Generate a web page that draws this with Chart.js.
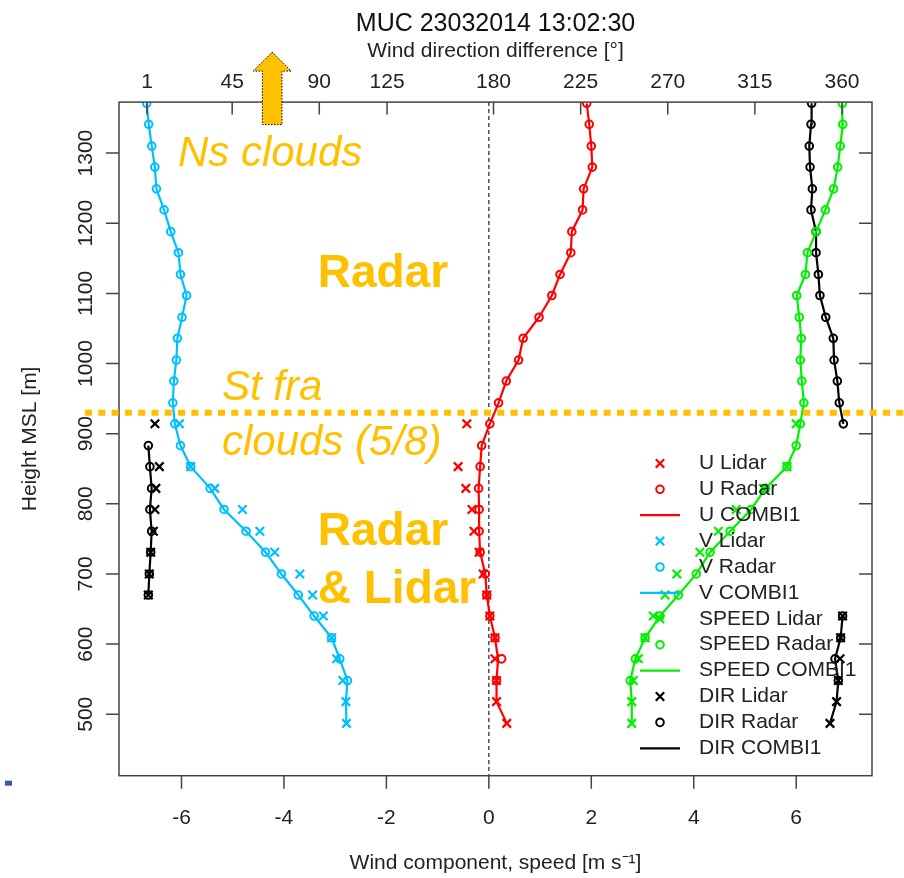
<!DOCTYPE html>
<html><head><meta charset="utf-8">
<script src="https://cdn.jsdelivr.net/npm/chart.js@4.4.1/dist/chart.umd.min.js"></script>
<style>html,body{margin:0;padding:0;background:#fff;}#wrap{width:904px;height:878px;}</style>
</head><body><div id="wrap"><canvas id="c" width="904" height="878"></canvas></div>
<script>
// ---------- data ----------
const heights = [487,518,548,579,609,640,670,700,731,761,792,822,853,883,914,944,975,1005,1036,1066,1097,1127,1158,1188,1219,1249,1280,1310,1341,1371];
const uLidar  = [0.35,0.15,0.15,0.12,0.12,0.02,-0.04,-0.11,-0.19,-0.29,-0.33,-0.45,-0.60,null,-0.43,null,null,null,null,null,null,null,null,null,null,null,null,null,null,null];
const uRadar  = [null,null,0.15,0.25,0.12,0.02,-0.04,-0.07,-0.17,-0.19,-0.19,-0.20,-0.17,-0.14,0.02,0.19,0.34,0.58,0.67,0.98,1.23,1.39,1.60,1.62,1.83,1.85,2.02,2.00,1.96,1.91];
const uCombi  = [0.35,0.15,0.15,0.18,0.12,0.02,-0.04,-0.07,-0.17,-0.19,-0.19,-0.20,-0.17,-0.14,0.02,0.19,0.34,0.58,0.67,0.98,1.23,1.39,1.60,1.62,1.83,1.85,2.02,2.00,1.96,1.91];
const vLidar  = [-2.78,-2.79,-2.85,-2.97,-3.07,-3.23,-3.44,-3.69,-4.18,-4.47,-4.81,-5.35,-5.82,null,-6.04,null,null,null,null,null,null,null,null,null,null,null,null,null,null,null];
const vRadar  = [null,null,-2.76,-2.91,-3.07,-3.41,-3.72,-4.05,-4.36,-4.74,-5.17,-5.44,-5.82,-6.02,-6.13,-6.17,-6.15,-6.10,-6.08,-5.99,-5.90,-6.02,-6.06,-6.21,-6.34,-6.49,-6.52,-6.58,-6.64,-6.68];
const vCombi  = [-2.78,-2.79,-2.76,-2.91,-3.07,-3.41,-3.72,-4.05,-4.36,-4.74,-5.17,-5.44,-5.82,-6.02,-6.13,-6.17,-6.15,-6.10,-6.08,-5.99,-5.90,-6.02,-6.06,-6.21,-6.34,-6.49,-6.52,-6.58,-6.64,-6.68];
const spLidar = [2.79,2.79,2.82,2.92,3.05,3.21,3.44,3.67,4.12,4.48,4.83,5.36,5.82,null,6.00,null,null,null,null,null,null,null,null,null,null,null,null,null,null,null];
const spRadar = [null,null,2.76,2.86,3.05,3.34,3.70,4.05,4.32,4.71,5.12,5.40,5.82,6.00,6.08,6.15,6.11,6.08,6.10,6.06,6.01,6.18,6.22,6.39,6.57,6.73,6.81,6.86,6.91,6.90];
const spCombi = [2.79,2.79,2.76,2.86,3.05,3.34,3.70,4.05,4.32,4.71,5.12,5.40,5.82,6.00,6.08,6.15,6.11,6.08,6.10,6.06,6.01,6.18,6.22,6.39,6.57,6.73,6.81,6.86,6.91,6.90];
const dirLidar = [353.8,357.2,358.1,359.0,359.3,360.3,1.7,2.2,2.9,4.3,5.1,5.6,7.4,null,5.1,null,null,null,null,null,null,null,null,null,null,null,null,null,null,null];
const dirRadar = [null,null,358.1,356.4,359.3,360.3,1.7,2.2,2.9,3.4,2.5,3.4,2.5,1.7,360.7,358.6,357.6,355.9,355.5,351.6,348.6,347.8,346.6,346.6,344.0,344.7,343.5,343.1,344.0,344.3];
const dirCombi = [353.8,357.2,358.1,356.4,359.3,360.3,1.7,2.2,2.9,3.4,2.5,3.4,2.5,1.7,360.7,358.6,357.6,355.9,355.5,351.6,348.6,347.8,346.6,346.6,344.0,344.7,343.5,343.1,344.0,344.3];
const speedTicks = [-6,-4,-2,0,2,4,6];
const dirTicks = [1,45,90,125,180,225,270,315,360];
const heightTicks = [500,600,700,800,900,1000,1100,1200,1300];
const cloudBase = 930;

// ---------- styling ----------
const FONT = "'Liberation Sans', Arial, sans-serif";
const RED = '#FF0000', BLUE = '#00BFFF', GREEN = '#00F000', BLACK = '#000000', ORANGE = '#FFC000';

function pts(xs){ const out=[]; xs.forEach((v,i)=>{ if(v!==null) out.push({x:v,y:heights[i]}); }); return out; }
function lidar(label, xs, color, axis){ return {label, data:pts(xs), xAxisID:axis, yAxisID:'y', showLine:false, pointStyle:'crossRot', pointRadius:6, pointBorderWidth:2.2, borderColor:color, backgroundColor:'rgba(0,0,0,0)', kind:'x'}; }
function radar(label, xs, color, axis){ return {label, data:pts(xs), xAxisID:axis, yAxisID:'y', showLine:false, pointStyle:'circle', pointRadius:3.8, pointBorderWidth:2, borderColor:color, backgroundColor:'rgba(0,0,0,0)', kind:'o'}; }
function combi(label, xs, color, axis){ return {label, data:pts(xs), xAxisID:axis, yAxisID:'y', showLine:true, pointRadius:0, borderWidth:2.2, borderColor:color, backgroundColor:color, kind:'l',
  segment:{borderColor: c => Math.abs(c.p0.parsed.x - c.p1.parsed.x) > 180 ? 'rgba(0,0,0,0)' : color}}; }

const datasets = [
  lidar('U Lidar', uLidar, RED, 'x'), radar('U Radar', uRadar, RED, 'x'), combi('U COMBI1', uCombi, RED, 'x'),
  lidar('V Lidar', vLidar, BLUE, 'x'), radar('V Radar', vRadar, BLUE, 'x'), combi('V COMBI1', vCombi, BLUE, 'x'),
  lidar('SPEED Lidar', spLidar, GREEN, 'x'), radar('SPEED Radar', spRadar, GREEN, 'x'), combi('SPEED COMBI1', spCombi, GREEN, 'x'),
  lidar('DIR Lidar', dirLidar, BLACK, 'x2'), radar('DIR Radar', dirRadar, BLACK, 'x2'), combi('DIR COMBI1', dirCombi, BLACK, 'x2')
];

const decor = {
  id:'decor',
  beforeDatasetsDraw(chart){
    const {ctx, chartArea:ca, scales} = chart;
    const x0 = scales.x.getPixelForValue(0);
    ctx.save();
    ctx.strokeStyle = '#333'; ctx.lineWidth = 1.3; ctx.setLineDash([4,3]);
    ctx.beginPath(); ctx.moveTo(x0, ca.top); ctx.lineTo(x0, ca.bottom); ctx.stroke();
    ctx.restore();
  },
  afterDatasetsDraw(chart){
    const {ctx, chartArea:ca, scales} = chart;
    const xs = scales.x, x2 = scales.x2, ys = scales.y;
    ctx.save();
    // box
    ctx.strokeStyle = '#444'; ctx.lineWidth = 1.5; ctx.setLineDash([]);
    ctx.strokeRect(ca.left, ca.top, ca.right-ca.left, ca.bottom-ca.top);
    // ticks
    ctx.beginPath();
    xs.ticks.forEach(t=>{ const p=xs.getPixelForValue(t.value); ctx.moveTo(p, ca.bottom); ctx.lineTo(p, ca.bottom+13); });
    x2.ticks.forEach(t=>{ const p=x2.getPixelForValue(t.value); ctx.moveTo(p, ca.top); ctx.lineTo(p, ca.top+12.5); });
    ys.ticks.forEach(t=>{ const p=ys.getPixelForValue(t.value); ctx.moveTo(ca.left, p); ctx.lineTo(ca.left-13, p); ctx.moveTo(ca.right, p); ctx.lineTo(ca.right-13, p); });
    ctx.stroke();
    // rotated y tick labels
    ctx.fillStyle = '#222'; ctx.font = '21px ' + FONT; ctx.textAlign='center'; ctx.textBaseline='middle';
    ys.ticks.forEach(t=>{ const p=ys.getPixelForValue(t.value); ctx.save(); ctx.translate(ca.left-33, p); ctx.rotate(-Math.PI/2); ctx.fillText(String(t.value), 0, 0); ctx.restore(); });
    // orange dotted cloud line
    const yc = ys.getPixelForValue(cloudBase);
    ctx.strokeStyle = ORANGE; ctx.lineWidth = 6; ctx.setLineDash([7,6.3]);
    ctx.beginPath(); ctx.moveTo(ca.left-34, yc); ctx.lineTo(chart.width, yc); ctx.stroke();
    ctx.setLineDash([]);
    // arrow
    const ax = xs.getPixelForValue(-4.23);
    const tip = ca.top-50, hb = ca.top-31, bot = ca.top+22.5, hw = 19, bw = 9.8;
    ctx.beginPath();
    ctx.moveTo(ax, tip); ctx.lineTo(ax+hw, hb); ctx.lineTo(ax+bw, hb); ctx.lineTo(ax+bw, bot);
    ctx.lineTo(ax-bw, bot); ctx.lineTo(ax-bw, hb); ctx.lineTo(ax-hw, hb); ctx.closePath();
    ctx.fillStyle = ORANGE; ctx.fill();
    ctx.strokeStyle = '#000'; ctx.lineWidth = 1; ctx.setLineDash([1.5,1.5]); ctx.stroke(); ctx.setLineDash([]);
    // annotation texts
    const notes = [
      {t:'Ns clouds', x:-6.07, y:1281.9, f:'italic 42px '},
      {t:'Radar', x:-3.34, y:1109.3, f:'bold 46px '},
      {t:'St fra', x:-5.21, y:948.2, f:'italic 42px '},
      {t:'clouds (5/8)', x:-5.21, y:869.8, f:'italic 42px '},
      {t:'Radar', x:-3.34, y:741.4, f:'bold 46px '},
      {t:'& Lidar', x:-3.34, y:658.7, f:'bold 46px '}
    ];
    ctx.fillStyle = ORANGE; ctx.textAlign='left'; ctx.textBaseline='alphabetic';
    notes.forEach(n=>{ ctx.font = n.f + FONT; ctx.fillText(n.t, xs.getPixelForValue(n.x), ys.getPixelForValue(n.y)); });
    // legend
    const mx = ca.right - 212;
    ctx.font = '21px ' + FONT; ctx.textBaseline = 'middle';
    chart.data.datasets.forEach((d,i)=>{
      const y = ca.bottom - 27.4 - (chart.data.datasets.length-1-i)*25.9;
      ctx.strokeStyle = d.borderColor; ctx.lineWidth = 2.2;
      ctx.beginPath();
      if (d.kind==='l'){ ctx.moveTo(mx-20,y); ctx.lineTo(mx+20,y); ctx.stroke(); }
      else if (d.kind==='x'){ const r=4.2; ctx.moveTo(mx-r,y-r); ctx.lineTo(mx+r,y+r); ctx.moveTo(mx+r,y-r); ctx.lineTo(mx-r,y+r); ctx.stroke(); }
      else { ctx.lineWidth=2; ctx.arc(mx,y,3.8,0,Math.PI*2); ctx.stroke(); }
      ctx.fillStyle = '#222'; ctx.fillText(d.label, mx+39, y);
    });
    // small slide mark
    ctx.fillStyle = '#3A56A5'; ctx.fillRect(5, ca.bottom+5, 7, 5);
    ctx.restore();
  }
};

const tickFont = {family:FONT, size:21};
new Chart(document.getElementById('c'), {
  type:'scatter',
  data:{datasets},
  options:{
    responsive:false, animation:false, events:[],
    layout:{padding:{left:0,right:32,top:0,bottom:0}},
    plugins:{
      legend:{display:false}, tooltip:{enabled:false},
      title:{display:true, text:'MUC 23032014 13:02:30', fullSize:false, color:'#111', font:{family:FONT,size:25,weight:'normal'}, padding:{top:9,bottom:0}}
    },
    scales:{
      x:{type:'linear', position:'bottom', min:-7.22, max:7.48,
         afterBuildTicks:s=>{ s.ticks = speedTicks.map(v=>({value:v})); },
         ticks:{padding:29.7, color:'#222', font:tickFont, maxRotation:0, autoSkip:false},
         grid:{display:false, drawTicks:false}, border:{display:false},
         title:{display:true, text:'Wind component, speed [m s\u207B\u00B9]', color:'#222', font:tickFont, padding:{top:0,bottom:2.4}},
         afterFit:s=>{ s.height = 102.3; }},
      x2:{type:'linear', position:'top', min:-13.46, max:375.5,
         afterBuildTicks:s=>{ s.ticks = dirTicks.map(v=>({value:v})); },
         ticks:{padding:7.7, color:'#222', font:tickFont, maxRotation:0, autoSkip:false},
         grid:{display:false, drawTicks:false}, border:{display:false},
         title:{display:true, text:'Wind direction difference [\u00B0]', color:'#222', font:tickFont, padding:{top:0,bottom:0}},
         afterFit:s=>{ s.height = 63.1; }},
      y:{type:'linear', position:'left', min:412.4, max:1372.7,
         afterBuildTicks:s=>{ s.ticks = heightTicks.map(v=>({value:v})); },
         ticks:{display:false},
         grid:{display:false, drawTicks:false}, border:{display:false},
         title:{display:true, text:'Height MSL [m]', color:'#222', font:tickFont, padding:{top:17.4,bottom:0}},
         afterFit:s=>{ s.width = 119; }}
    }
  },
  plugins:[decor]
});
</script></body></html>
